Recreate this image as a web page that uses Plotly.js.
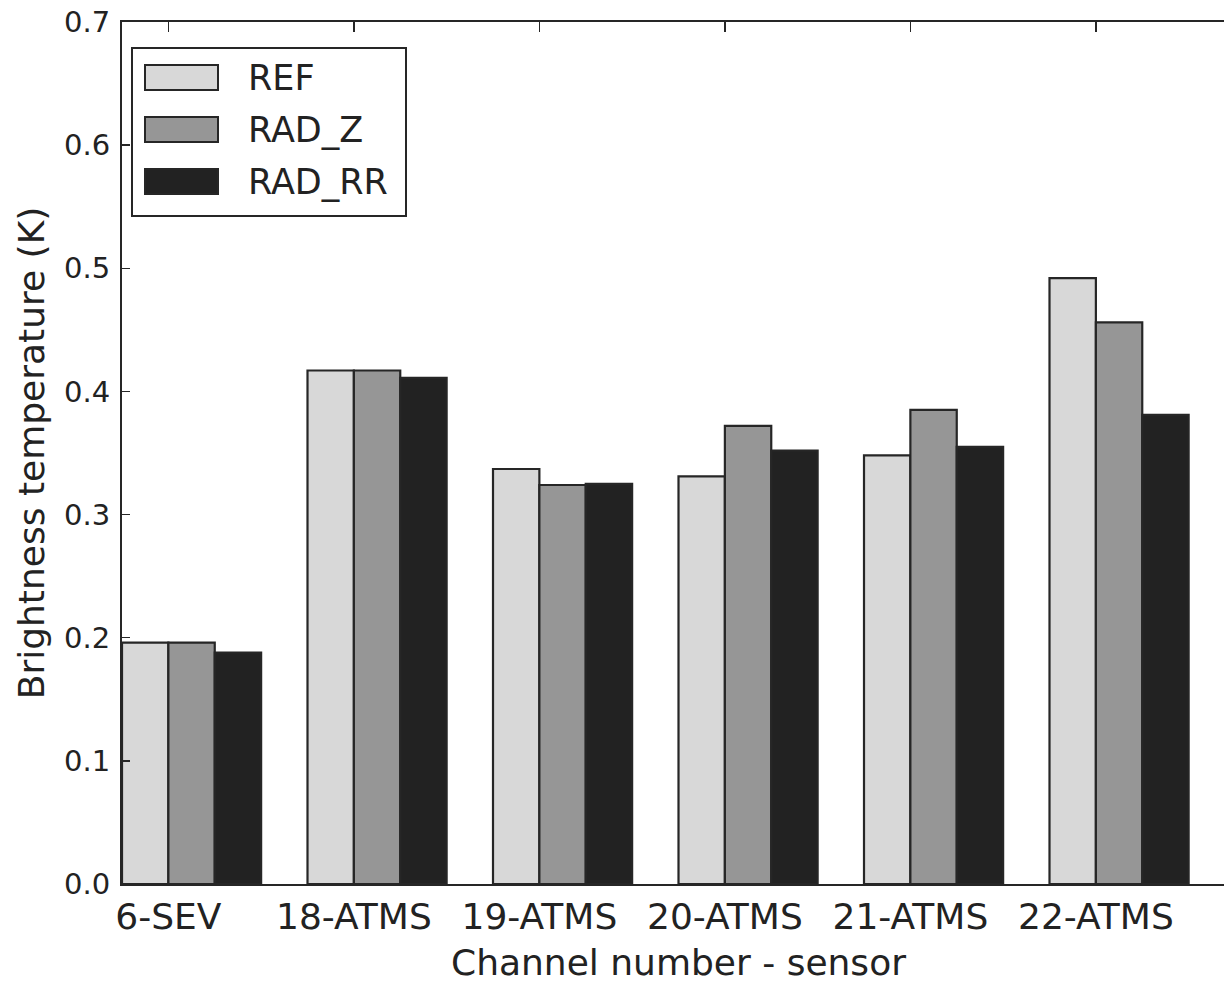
<!DOCTYPE html>
<html>
<head>
<meta charset="utf-8">
<script src="https://cdn.plot.ly/plotly-3.0.1.min.js"></script>
<style>
html, body { margin: 0; padding: 0; overflow: hidden; background: #fff; }
#chart { width: 1240px; height: 983px; }
</style>
</head>
<body>
<div id="chart"></div>
<script>
// Data
const categories = ["6-SEV", "18-ATMS", "19-ATMS", "20-ATMS", "21-ATMS", "22-ATMS"];
const seriesNames = ["REF", "RAD_Z", "RAD_RR"];
const refValues   = [0.196, 0.417, 0.337, 0.331, 0.348, 0.492];
const radZValues  = [0.196, 0.417, 0.324, 0.372, 0.385, 0.456];
const radRRValues = [0.188, 0.411, 0.325, 0.352, 0.355, 0.381];
const yTickValues = [0.0, 0.1, 0.2, 0.3, 0.4, 0.5, 0.6, 0.7];

const seriesValues = [refValues, radZValues, radRRValues];
const seriesColors = ["#d8d8d8", "#969696", "#222222"];
const edgeColor = "#262626";
const barWidth = 0.25;
const idx = categories.map((c, i) => i);

const traces = seriesNames.map((name, k) => ({
  type: "bar",
  name: name,
  x: idx,
  y: seriesValues[k],
  width: barWidth,
  offset: k * barWidth,
  marker: { color: seriesColors[k], line: { color: edgeColor, width: 2.2 } },
  showlegend: false,
  hoverinfo: "x+y+name"
}));

// Manual legend (large patches like the reference)
const shapes = [];
const annotations = [];
const plotL = 122, plotT = 22, plotW = 1113, plotH = 862;
function px2x(px) { return (px - plotL) / plotW; }
function py2y(py) { return 1 - (py - plotT) / plotH; }
shapes.push({
  type: "rect", xref: "paper", yref: "paper",
  x0: px2x(132), x1: px2x(406), y0: py2y(216), y1: py2y(48),
  line: { color: "#262626", width: 2 }, fillcolor: "#ffffff", layer: "above"
});
const rowCenters = [77.5, 129.5, 181.5];
seriesNames.forEach((name, k) => {
  const cy = rowCenters[k];
  shapes.push({
    type: "rect", xref: "paper", yref: "paper",
    x0: px2x(145), x1: px2x(218), y0: py2y(cy + 12.5), y1: py2y(cy - 12.5),
    line: { color: edgeColor, width: 2 }, fillcolor: seriesColors[k], layer: "above"
  });
  annotations.push({
    xref: "paper", yref: "paper", x: px2x(246), y: py2y(cy),
    xanchor: "left", yanchor: "middle", showarrow: false,
    text: name, font: { family: "DejaVu Sans", size: 35, color: "#222222" }
  });
});

const layout = {
  width: 1240, height: 983,
  margin: { l: 122, r: 5, t: 22, b: 99 },
  paper_bgcolor: "#ffffff", plot_bgcolor: "#ffffff",
  font: { family: "DejaVu Sans", color: "#222222" },
  barmode: "overlay",
  xaxis: {
    range: [0, 6], type: "linear",
    tickvals: idx.map(i => i + barWidth), ticktext: categories,
    ticks: "inside", ticklen: 10, tickwidth: 1.5, tickcolor: "#262626",
    showline: true, linecolor: "#262626", linewidth: 2, mirror: "ticks",
    showgrid: false, zeroline: false,
    tickfont: { family: "DejaVu Sans", size: 36, color: "#222222" },
    ticklabelstandoff: 0,
    title: { text: "Channel number - sensor", font: { family: "DejaVu Sans", size: 36, color: "#222222" }, standoff: 19 }
  },
  yaxis: {
    range: [0, 0.7], tickvals: yTickValues, tickformat: ".1f",
    ticks: "inside", ticklen: 8, tickwidth: 1.5, tickcolor: "#262626",
    showline: true, linecolor: "#262626", linewidth: 2, mirror: "ticks",
    showgrid: false, zeroline: false,
    tickfont: { family: "DejaVu Sans", size: 29, color: "#222222" },
    ticklabelstandoff: 4,
    title: { text: "Brightness temperature (K)", font: { family: "DejaVu Sans", size: 36, color: "#222222" }, standoff: 8 }
  },
  shapes: shapes,
  annotations: annotations
};

Plotly.newPlot("chart", traces, layout, { displayModeBar: false, staticPlot: true });
</script>
</body>
</html>
